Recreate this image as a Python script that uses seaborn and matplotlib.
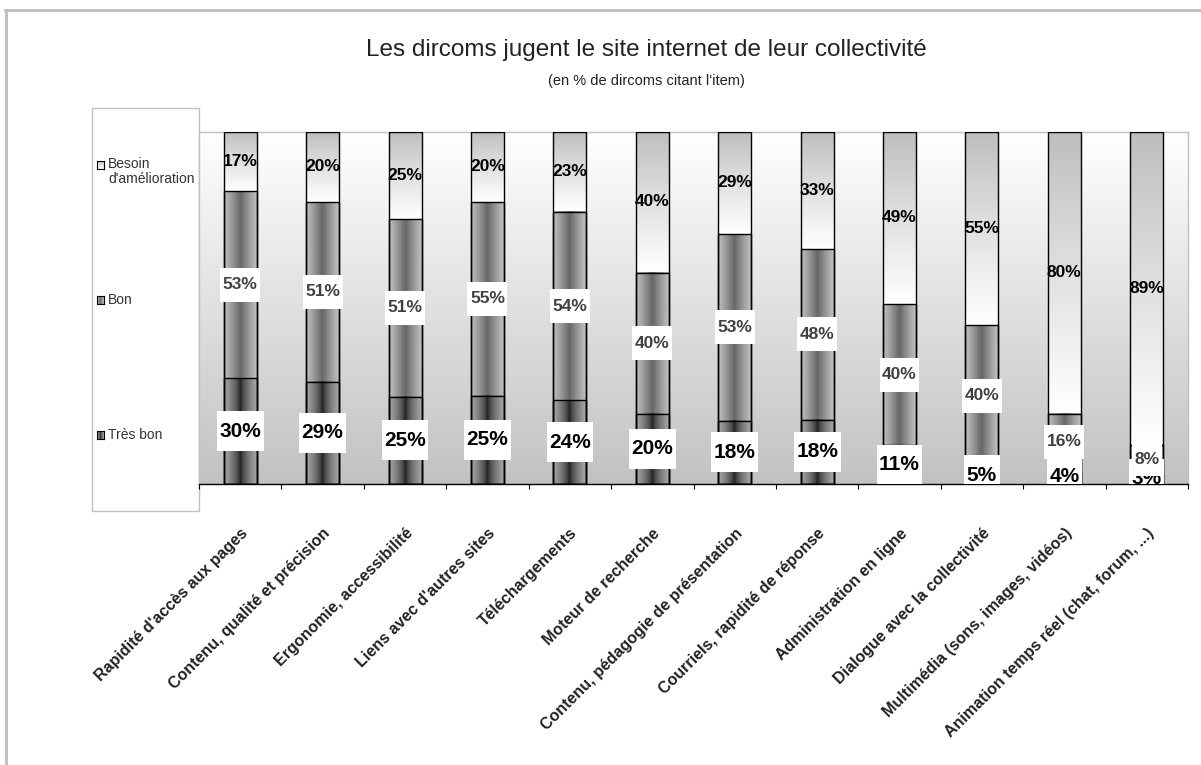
import numpy as np
import pandas as pd
import seaborn as sns
import matplotlib
matplotlib.use("Agg")
import matplotlib.pyplot as plt
from matplotlib.patches import Rectangle
from matplotlib.lines import Line2D

# ---- data -------------------------------------------------------------
categories = [
    "Rapidité d'accès aux pages",
    "Contenu, qualité et précision",
    "Ergonomie, accessibilité",
    "Liens avec d'autres sites",
    "Téléchargements",
    "Moteur de recherche",
    "Contenu, pédagogie de présentation",
    "Courriels, rapidité de réponse",
    "Administration en ligne",
    "Dialogue avec la collectivité",
    "Multimédia (sons, images, vidéos)",
    "Animation temps réel (chat, forum, ...)",
]
tres_bon = [30, 29, 25, 25, 24, 20, 18, 18, 11, 5, 4, 3]
bon = [53, 51, 51, 55, 54, 40, 53, 48, 40, 40, 16, 8]
besoin = [17, 20, 25, 20, 23, 40, 29, 33, 49, 55, 80, 89]
series_names = ["Besoin\nd'amélioration", "Bon", "Très bon"]

title = "Les dircoms jugent le site internet de leur collectivité"
subtitle = "(en % de dircoms citant l'item)"

plt.rcParams["font.family"] = ["Liberation Sans", "DejaVu Sans"]

# ---- 100 % stacked shares ----------------------------------------------
df = pd.DataFrame({"cat": categories, "tb": tres_bon, "bon": bon, "bes": besoin})
total = df[["tb", "bon", "bes"]].sum(axis=1)
df["top_tb"] = df["tb"] / total * 100
df["top_bon"] = (df["tb"] + df["bon"]) / total * 100
df["top_all"] = 100.0

W, H, DPI = 1201, 765, 100
fig = plt.figure(figsize=(W / DPI, H / DPI), dpi=DPI)
fig.patch.set_facecolor("white")
ax = fig.add_axes([199 / W, 1 - 484 / H, (1188 - 199) / W, (484 - 131.5) / H])

# background: vertical white -> grey gradient
t = np.linspace(0, 1, 256)[:, None]
bg = 1.0 + (0.76 - 1.0) * t
ax.imshow(np.dstack([bg, bg, bg]), extent=[0, 1, 0, 1], transform=ax.transAxes,
          aspect="auto", interpolation="bilinear", zorder=0)

BAR_W = 0.40
layers = []
for col in ["top_all", "top_bon", "top_tb"]:
    n0 = len(ax.patches)
    sns.barplot(data=df, x="cat", y=col, order=categories, color="white",
                saturation=1, width=BAR_W, errorbar=None, edgecolor="black",
                linewidth=1.0, ax=ax)
    layers.append(ax.patches[n0:])


def vgrad(top, bottom, n=256, gamma=1.0):
    tt = np.linspace(0, 1, n)[:, None] ** gamma
    c = top + (bottom - top) * tt
    return np.dstack([c, c, c])


def hgrad(edge, center, n=96, power=1.0):
    u = np.linspace(0, 1, n)[None, :]
    d = np.abs(2 * u - 1) ** power
    c = center + (edge - center) * d
    return np.dstack([c, c, c])


grads = [vgrad(0.74, 1.0, gamma=0.9), hgrad(0.76, 0.40, power=0.9), hgrad(0.66, 0.10, power=0.6)]
for li, patches in enumerate(layers):
    for j, p in enumerate(patches):
        x0, w, top = p.get_x(), p.get_width(), p.get_y() + p.get_height()
        bottom = layers[li + 1][j].get_height() if li < 2 else 0.0
        ax.imshow(grads[li], extent=[x0, x0 + w, bottom, top], aspect="auto",
                  interpolation="bilinear", zorder=2 + 0.1 * li)
        p.set_facecolor("none")
        p.set_zorder(3)

ax.set_xlim(-0.5, len(categories) - 0.5)
ax.set_ylim(0, 100)
ax.set_xlabel("")
ax.set_ylabel("")
ax.set_yticks([])

for s in ["top", "right", "left"]:
    ax.spines[s].set_color("#c0c0c0")
    ax.spines[s].set_linewidth(1.0)
ax.spines["bottom"].set_color("black")
ax.spines["bottom"].set_linewidth(1.0)
ax.spines["bottom"].set_zorder(5)

ax.set_xticks(range(len(categories)))
ax.set_xticks(np.arange(-0.5, len(categories), 1.0), minor=True)
ax.tick_params(axis="x", which="minor", length=3.6, width=0.8, color="black", direction="out")
ax.tick_params(axis="x", which="major", length=0, pad=30)
ax.set_xticklabels(categories, rotation=45, ha="right", va="top", rotation_mode="anchor",
                   fontsize=11.5, fontweight="bold", color="#222222")

# ---- data labels -------------------------------------------------------
fig.canvas.draw()
renderer = fig.canvas.get_renderer()
px_per_x = ax.bbox.width / (len(categories))
px_per_y = ax.bbox.height / 100.0


def boxed_label(x, y, txt, size, color, box_h_px, z):
    t_ = ax.text(x, y, txt, ha="center", va="center", fontsize=size, fontweight="bold",
                 color=color, zorder=z + 0.05, clip_on=True)
    bb = t_.get_window_extent(renderer)
    bw = (bb.width + 5) / px_per_x
    bh = box_h_px / px_per_y
    ax.add_patch(Rectangle((x - bw / 2, y - bh / 2), bw, bh, facecolor="white",
                           edgecolor="none", zorder=z, clip_on=True))


for i in range(len(categories)):
    ttb, tbon = df.loc[i, "top_tb"], df.loc[i, "top_bon"]
    boxed_label(i, ttb / 2, f"{tres_bon[i]}%", 15, "black", 40, 6)
    boxed_label(i, (ttb + tbon) / 2, f"{bon[i]}%", 12.5, "#404040", 34, 7)
    ax.text(i, (tbon + 100) / 2, f"{besoin[i]}%", ha="center", va="center", fontsize=12.5,
            fontweight="bold", color="black", zorder=8, clip_on=True)

# ---- legend box --------------------------------------------------------
fig.patches.append(Rectangle((92 / W, 1 - 511 / H), (199 - 92) / W, (511 - 108) / H,
                             transform=fig.transFigure, facecolor="white",
                             edgecolor="#c0c0c0", linewidth=1.0, zorder=-1))
leg_y = [165, 300, 435]
for k, (name, g) in enumerate(zip(series_names, grads)):
    yc = leg_y[k]
    ma = fig.add_axes([97 / W, 1 - (yc + 4) / H, 7 / W, 8 / H], zorder=2)
    ma.imshow(g, aspect="auto", interpolation="bilinear")
    ma.set_xticks([])
    ma.set_yticks([])
    for s in ma.spines.values():
        s.set_color("black")
        s.set_linewidth(0.8)
    fig.text(108 / W, 1 - (yc - 8) / H if k == 0 else 1 - yc / H, name,
             ha="left", va="top" if k == 0 else "center", fontsize=10,
             color="#333333", linespacing=1.1)

# ---- titles ------------------------------------------------------------
fig.text(646 / W, 1 - 50 / H, title, ha="center", va="center", fontsize=17.5, color="#222222")
fig.text(646 / W, 1 - 81 / H, subtitle, ha="center", va="center", fontsize=10.5, color="#222222")

# outer frame (top and left edges)
fig.lines.append(Line2D([5 / W, 1.0], [1 - 10 / H, 1 - 10 / H], transform=fig.transFigure,
                        color="#bdbdbd", linewidth=2))
fig.lines.append(Line2D([6 / W, 6 / W], [0, 1 - 10 / H], transform=fig.transFigure,
                        color="#bdbdbd", linewidth=2))

fig.savefig("out.png", dpi=DPI)
